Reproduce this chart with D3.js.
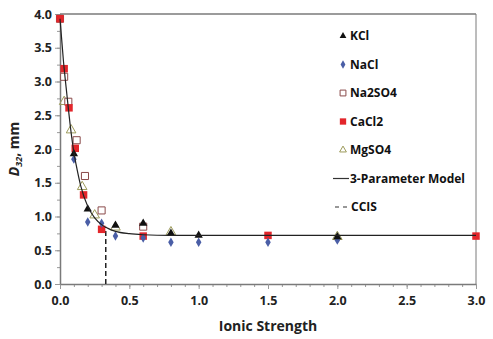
<!DOCTYPE html>
<html>
<head>
<meta charset="utf-8">
<script src="https://cdn.jsdelivr.net/npm/d3@7"></script>
<style>
  body { margin: 0; background: #fff; }
  text { font-family: "Open Sans", "Liberation Sans", sans-serif; font-weight: bold; }
</style>
</head>
<body>
<script>
// data: [ionic strength, D32 mm]
const kcl = [[0.1, 1.93], [0.2, 1.11], [0.4, 0.87], [0.6, 0.9], [0.8, 0.75], [1.0, 0.72], [2.0, 0.7]];
const nacl = [[0.1, 1.85], [0.2, 0.92], [0.3, 0.9], [0.4, 0.71], [0.6, 0.68], [0.8, 0.62], [1.0, 0.62], [1.5, 0.62], [2.0, 0.65]];
const na2so4 = [[0, 3.93], [0.03, 3.07], [0.06, 2.7], [0.12, 2.13], [0.18, 1.6], [0.3, 1.09], [0.6, 0.85]];
const cacl2 = [[0, 3.93], [0.03, 3.19], [0.065, 2.61], [0.11, 2.01], [0.17, 1.32], [0.3, 0.81], [0.6, 0.71], [1.5, 0.72], [3.0, 0.71]];
const mgso4 = [[0.03, 2.7], [0.08, 2.28], [0.16, 1.44], [0.25, 1.02], [0.4, 0.84], [0.8, 0.77], [2.0, 0.7]];
// model curve points
const model = [[0, 3.93], [0.025, 3.3], [0.05, 2.8], [0.075, 2.33], [0.1, 1.95], [0.125, 1.68], [0.15, 1.45], [0.2, 1.15],
  [0.25, 0.98], [0.3, 0.88], [0.35, 0.82], [0.4, 0.78], [0.5, 0.745], [0.6, 0.73], [0.8, 0.72], [1.0, 0.72], [3.0, 0.72]];
const ccis = { x: 0.33, y: 0.85 };
const xTicks = [0, 0.5, 1.0, 1.5, 2.0, 2.5, 3.0];
const yTicks = [0, 0.5, 1.0, 1.5, 2.0, 2.5, 3.0, 3.5, 4.0];
const legendItems = ["KCl", "NaCl", "Na2SO4", "CaCl2", "MgSO4", "3-Parameter Model", "CCIS"];

const width = 493, height = 339;
const margin = { top: 14, right: 17, bottom: 55, left: 60 };

const svg = d3.select("body").append("svg")
  .attr("width", width)
  .attr("height", height);

const x = d3.scaleLinear().domain([0, 3]).range([margin.left, width - margin.right]);
const y = d3.scaleLinear().domain([0, 4]).range([height - margin.bottom, margin.top]);

// frame lines (top and right)
svg.append("line").attr("x1", x(0)).attr("x2", x(3)).attr("y1", y(4)).attr("y2", y(4))
  .attr("stroke", "#7a7a7a").attr("stroke-width", 1.5);
svg.append("line").attr("x1", x(3)).attr("x2", x(3)).attr("y1", y(4)).attr("y2", y(0))
  .attr("stroke", "#7a7a7a").attr("stroke-width", 1);

// minor ticks
svg.append("g")
  .attr("transform", `translate(0,${y(0)})`)
  .call(d3.axisBottom(x).tickValues(d3.range(0, 3.01, 0.1)).tickSize(3).tickFormat(""))
  .call(g => g.select(".domain").remove())
  .selectAll("line").attr("stroke", "#999");
svg.append("g")
  .attr("transform", `translate(${x(0)},0)`)
  .call(d3.axisLeft(y).tickValues(d3.range(0, 4.01, 0.25)).tickSize(3).tickFormat(""))
  .call(g => g.select(".domain").remove())
  .selectAll("line").attr("stroke", "#999");

// axes
const xAxis = svg.append("g")
  .attr("transform", `translate(0,${y(0)})`)
  .call(d3.axisBottom(x).tickValues(xTicks).tickSize(5).tickSizeOuter(0).tickFormat(d3.format(".1f")));
const yAxis = svg.append("g")
  .attr("transform", `translate(${x(0)},0)`)
  .call(d3.axisLeft(y).tickValues(yTicks).tickSize(5).tickSizeOuter(0).tickFormat(d3.format(".1f")));
[xAxis, yAxis].forEach(a => {
  a.select(".domain").attr("stroke", "#7a7a7a").attr("stroke-width", 1.5);
  a.selectAll(".tick line").attr("stroke", "#999");
  a.selectAll("text").attr("font-size", 12.5).attr("fill", "#222")
    .style("font-family", "'Open Sans', sans-serif").style("font-weight", "bold");
});
xAxis.selectAll("text").attr("dy", "1.05em");

// axis titles
svg.append("text").attr("x", 268).attr("y", 331).attr("text-anchor", "middle")
  .attr("font-size", 14).attr("fill", "#222").text("Ionic Strength");
const yt = svg.append("text").attr("transform", `translate(19,${y(2)}) rotate(-90)`)
  .attr("text-anchor", "middle").attr("font-size", 14).attr("fill", "#222");
yt.append("tspan").attr("font-style", "italic").text("D");
yt.append("tspan").attr("font-style", "italic").attr("font-size", 9).attr("dy", 3).text("32");
yt.append("tspan").attr("dy", -3).text(", mm");

// CCIS dashed line
svg.append("line")
  .attr("x1", x(ccis.x)).attr("x2", x(ccis.x))
  .attr("y1", y(0)).attr("y2", y(ccis.y))
  .attr("stroke", "#222").attr("stroke-width", 1.5).attr("stroke-dasharray", "5,3");

// marker shapes
const tri = d3.symbol().type(d3.symbolTriangle).size(30);
const dia = d3.symbol().type(d3.symbolDiamond).size(26);
const sq = d3.symbol().type(d3.symbolSquare).size(56);
const sqOpen = d3.symbol().type(d3.symbolSquare).size(50);
const triOpen = d3.symbol().type(d3.symbolTriangle).size(40);

const series = [
  { name: "MgSO4", data: mgso4, path: triOpen, fill: "none", stroke: "#9c9a5a", sw: 1 },
  { name: "Na2SO4", data: na2so4, path: sqOpen, fill: "#fff", stroke: "#8a4a4a", sw: 1 },
  { name: "CaCl2", data: cacl2, path: sq, fill: "#e3262b", stroke: "none", sw: 0 },
  { name: "NaCl", data: nacl, path: dia, fill: "#4a5ea6", stroke: "none", sw: 0 },
  { name: "KCl", data: kcl, path: tri, fill: "#111", stroke: "none", sw: 0 }
];

series.forEach(s => {
  svg.append("g").selectAll("path")
    .data(s.data)
    .enter()
    .append("path")
    .attr("d", s.path)
    .attr("transform", d => `translate(${x(d[0])},${y(d[1])})`)
    .attr("fill", s.fill)
    .attr("stroke", s.stroke)
    .attr("stroke-width", s.sw);
});

// model line
const line = d3.line().x(d => x(d[0])).y(d => y(d[1])).curve(d3.curveMonotoneX);
svg.append("path").datum(model)
  .attr("d", line)
  .attr("fill", "none")
  .attr("stroke", "#222")
  .attr("stroke-width", 1.2);

// legend
const lg = svg.append("g");
const ly = d3.scalePoint().domain(legendItems).range([36, 207]);
const styleOf = n => series.find(s => s.name === n);
legendItems.forEach(n => {
  const yy = ly(n);
  const s = styleOf(n);
  if (s) {
    const small = n === "CaCl2" ? d3.symbol().type(d3.symbolSquare).size(40)
      : n === "Na2SO4" ? d3.symbol().type(d3.symbolSquare).size(34)
      : n === "NaCl" ? d3.symbol().type(d3.symbolDiamond).size(20)
      : d3.symbol().type(d3.symbolTriangle).size(20);
    lg.append("path").attr("d", small)
      .attr("transform", `translate(343,${yy})`)
      .attr("fill", s.fill).attr("stroke", s.stroke).attr("stroke-width", s.sw);
    lg.append("text").attr("x", 350).attr("y", yy).attr("dy", "0.35em")
      .attr("font-size", 12).attr("fill", "#111").text(n);
  } else if (n === "3-Parameter Model") {
    lg.append("line").attr("x1", 333).attr("x2", 349).attr("y1", yy).attr("y2", yy)
      .attr("stroke", "#333").attr("stroke-width", 1.2);
    lg.append("text").attr("x", 350).attr("y", yy).attr("dy", "0.35em")
      .attr("font-size", 12).attr("fill", "#111").text(n);
  } else {
    lg.append("line").attr("x1", 335).attr("x2", 349).attr("y1", yy).attr("y2", yy)
      .attr("stroke", "#333").attr("stroke-width", 1.2).attr("stroke-dasharray", "4,4");
    lg.append("text").attr("x", 351).attr("y", yy).attr("dy", "0.35em")
      .attr("font-size", 12).attr("fill", "#111").text(n);
  }
});
</script>
</body>
</html>
